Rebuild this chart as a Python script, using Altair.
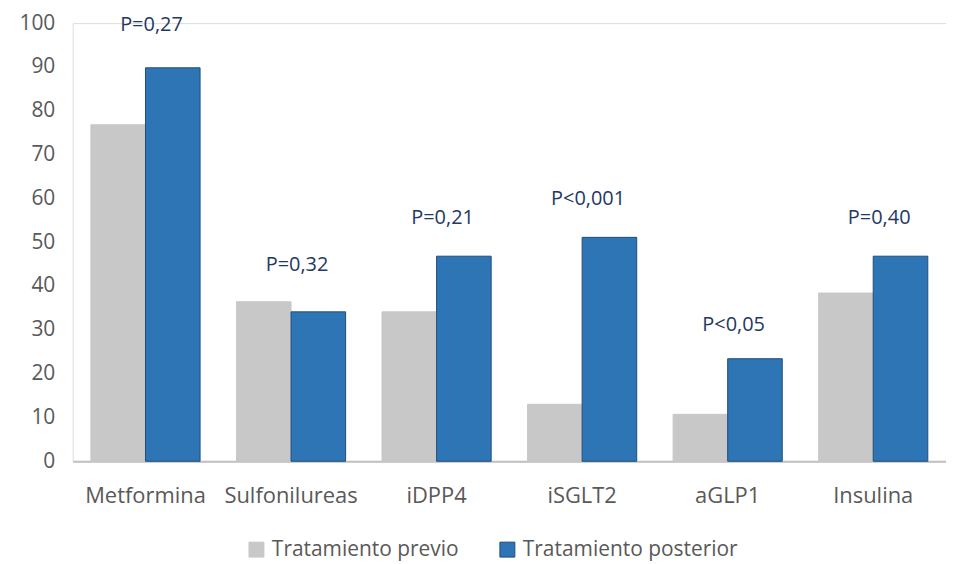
import altair as alt
import pandas as pd

categories = ["Metformina", "Sulfonilureas", "iDPP4", "iSGLT2", "aGLP1", "Insulina"]
series = ["Tratamiento previo", "Tratamiento posterior"]
previo = [76.8, 36.4, 34.1, 13.0, 10.7, 38.4]
posterior = [89.8, 34.1, 46.8, 51.1, 23.4, 46.8]
p_labels = ["P=0,27", "P=0,32", "P=0,21", "P<0,001", "P<0,05", "P=0,40"]
p_label_y = [99.6, 44.8, 55.5, 59.8, 31.1, 55.5]
y_ticks = list(range(0, 101, 10))

rows = []
for c, a, b in zip(categories, previo, posterior):
    rows.append({"cat": c, "serie": series[0], "val": a})
    rows.append({"cat": c, "serie": series[1], "val": b})
bars_df = pd.DataFrame(rows)
lab_df = pd.DataFrame({"cat": categories, "label": p_labels, "y": p_label_y})

FONT = "Open Sans"

x_enc = alt.X("cat:N", sort=categories, title=None,
              scale=alt.Scale(paddingInner=0.25, paddingOuter=0.125),
              axis=alt.Axis(labelAngle=0, labelFontSize=22, labelColor="#595959",
                            labelFont=FONT, labelPadding=24, ticks=False,
                            domainColor="#BFBFBF", domainWidth=2, grid=False,
                            labelLimit=0))
y_scale = alt.Scale(domain=[0, 100], nice=False)

bars = alt.Chart(bars_df).mark_bar(strokeWidth=1).encode(
    x=x_enc,
    xOffset=alt.XOffset("serie:N", sort=series, scale=alt.Scale(paddingInner=0, paddingOuter=0)),
    y=alt.Y("val:Q", scale=y_scale, title=None,
            axis=alt.Axis(values=y_ticks, labelFontSize=21, labelColor="#595959",
                          labelFont=FONT, labelPadding=18, ticks=False, domain=False,
                          grid=False)),
    color=alt.Color("serie:N", sort=series,
                    scale=alt.Scale(domain=series, range=["#C8C8C8", "#2E75B6"]),
                    legend=alt.Legend(title=None, orient="none", direction="horizontal",
                                      legendX=174, legendY=518, symbolType="square",
                                      symbolSize=225, labelFontSize=21, labelFont=FONT,
                                      labelColor="#595959", columnPadding=38,
                                      labelOffset=5, symbolStrokeWidth=1, labelLimit=0)),
    stroke=alt.Stroke("serie:N", sort=series,
                      scale=alt.Scale(domain=series, range=["#C8C8C8", "#1F4E79"]),
                      legend=None),
)

texts = alt.Chart(lab_df).mark_text(fontSize=20, font=FONT, color="#1F3864",
                                    baseline="middle", dx=6).encode(
    x=alt.X("cat:N", sort=categories),
    y=alt.Y("y:Q", scale=y_scale),
    text="label:N",
)

chart = alt.layer(bars, texts).properties(
    width=877, height=440,
    autosize=alt.AutoSizeParams(type="none"),
    padding={"left": 65, "top": 14, "right": 0, "bottom": 100},
).configure_view(stroke=None).configure(background="white")

chart.save("out.html", embed_options={"renderer": "svg", "actions": False})
